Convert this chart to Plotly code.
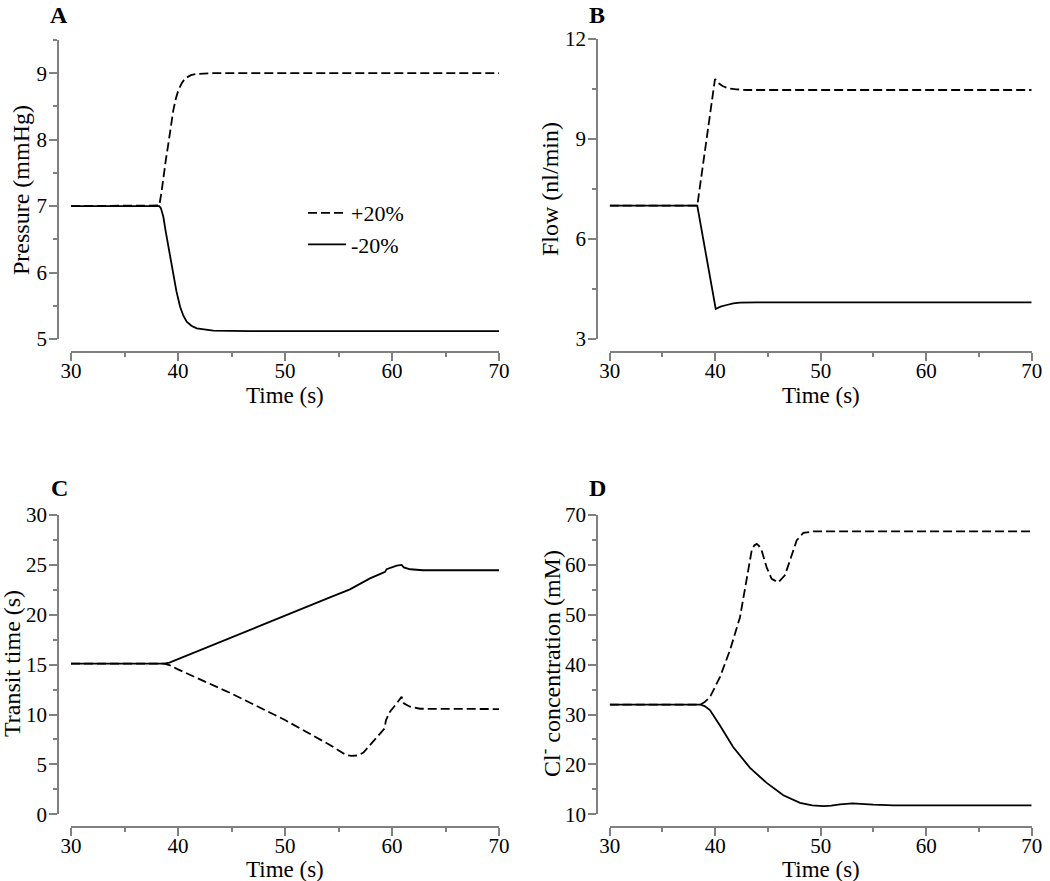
import plotly.graph_objects as go

# ---------------- data ----------------
# Panel A: pressure (mmHg)
tA_up = [30, 38.25, 38.45, 38.63, 38.85, 39.1, 39.33, 39.56, 39.8, 40.03, 40.35, 40.65, 41.2, 41.75, 43.3, 70]
pA_up = [7.0, 7.01, 7.2, 7.44, 7.68, 7.94, 8.2, 8.44, 8.62, 8.74, 8.85, 8.92, 8.97, 8.99, 9.0, 9.0]
tA_dn = [30, 38.25, 38.4, 38.63, 38.85, 39.1, 39.33, 39.56, 39.85, 40.19, 40.5, 40.81, 41.25, 41.75, 42.5, 43.3, 46.7, 70]
pA_dn = [7.0, 7.0, 6.97, 6.84, 6.62, 6.39, 6.16, 5.94, 5.72, 5.49, 5.35, 5.26, 5.2, 5.16, 5.14, 5.125, 5.12, 5.12]

# Panel B: flow (nl/min)
tB_up = [30, 38.3, 39.98, 40.3, 40.7, 41.24, 42.0, 42.98, 70]
fB_up = [7.0, 7.0, 10.8, 10.68, 10.59, 10.52, 10.49, 10.47, 10.47]
tB_dn = [30, 38.3, 40.05, 40.5, 41.09, 41.7, 42.35, 44.0, 70]
fB_dn = [7.0, 7.0, 3.9, 3.97, 4.02, 4.07, 4.09, 4.1, 4.1]

# Panel C: transit time (s)
tC_up = [30, 38.7, 39.2, 40, 45, 50, 54.2, 55.14, 55.7, 56.23, 56.8, 57.33, 58.26, 59.19, 59.3,
         59.44, 59.81, 60.44, 60.9, 61.1, 61.68, 62.6, 70]
vC_up = [15.1, 15.1, 14.95, 14.53, 12.1, 9.45, 6.95, 6.28, 5.95, 5.85, 5.9, 6.18, 7.28, 8.45, 8.6,
         9.45, 10.28, 11.12, 11.79, 11.12, 10.78, 10.58, 10.55]
tC_dn = [30, 38.7, 39.2, 40, 45, 50, 54.2, 56.07, 57.94, 59.19, 59.35, 59.5, 60.44, 60.9, 61.1, 61.7, 62.9, 70]
vC_dn = [15.1, 15.1, 15.2, 15.55, 17.8, 19.95, 21.75, 22.55, 23.65, 24.22, 24.3, 24.56, 24.92, 25.0,
         24.75, 24.56, 24.46, 24.46]

# Panel D: Cl- concentration (mM)
tD_up = [30, 38.6, 39.0, 39.5, 40.45, 41.4, 42.35, 42.98, 43.46, 43.7, 43.93, 44.15, 44.4, 44.88,
         45.35, 45.98, 46.6, 47.09, 47.72, 48.35, 49.3, 70]
cD_up = [32.0, 32.0, 32.5, 33.5, 37.5, 42.9, 49.5, 57.5, 62.9, 63.9, 64.2, 63.8, 62.9, 59.5,
         57.2, 56.5, 57.9, 60.9, 64.9, 66.4, 66.7, 66.7]
tD_dn = [30, 38.6, 39.0, 39.5, 40.45, 41.7, 43.3, 44.88, 46.46, 48.04, 49.2, 50.25, 51.0, 51.83,
         53.0, 54.0, 54.98, 56.9, 70]
cD_dn = [32.0, 32.0, 31.7, 30.9, 27.8, 23.5, 19.3, 16.3, 13.8, 12.3, 11.8, 11.65, 11.75, 12.0,
         12.2, 12.15, 11.95, 11.8, 11.8]

series_names = ["+20%", "-20%"]
x_ticks = [30, 40, 50, 60, 70]
panel_labels = ["A", "B", "C", "D"]
y_titles = ["Pressure (mmHg)", "Flow (nl/min)", "Transit time (s)", "Cl<sup>-</sup> concentration (mM)"]
x_title = "Time (s)"

# ---------------- figure ----------------
W, H = 1050, 881
FONT = "Liberation Serif"
AX = "#808080"

def px(x):
    return x / W

def py(y):
    return 1 - y / H

fig = go.Figure()

panels = [
    (tA_up, pA_up, tA_dn, pA_dn),
    (tB_up, fB_up, tB_dn, fB_dn),
    (tC_up, vC_up, tC_dn, vC_dn),
    (tD_up, cD_up, tD_dn, cD_dn),
]

for i, (tu, vu, td, vd) in enumerate(panels):
    n = "" if i == 0 else str(i + 1)
    fig.add_trace(go.Scatter(x=tu, y=vu, mode="lines", name=series_names[0],
                             line=dict(color="black", width=1.8, dash="9px,4px"),
                             xaxis="x" + n, yaxis="y" + n, showlegend=(i == 0),
                             legendgroup="up"))
    fig.add_trace(go.Scatter(x=td, y=vd, mode="lines", name=series_names[1],
                             line=dict(color="black", width=1.8),
                             xaxis="x" + n, yaxis="y" + n, showlegend=(i == 0),
                             legendgroup="dn"))

# geometry (pixels)
geo = [
    dict(x0=71, x1=499, yt=40, yb=339, yax=58, xax=352),
    dict(x0=609.7, x1=1031.7, yt=39, yb=339, yax=597, xax=352),
    dict(x0=71, x1=499, yt=515, yb=814.3, yax=58, xax=827),
    dict(x0=609.7, x1=1031.7, yt=515, yb=814.3, yax=597, xax=827),
]
yranges = [[5, 9.5], [3, 12], [0, 30], [10, 70]]
ydticks = [1, 3, 5, 10]
yminor = [0.5, 1.5, 2.5, 5]

common_tick = dict(showline=True, linecolor=AX, linewidth=1.5, ticks="outside", ticklen=8,
                   tickwidth=1.5, tickcolor=AX, showgrid=False, zeroline=False,
                   tickfont=dict(family=FONT, size=21, color="black"), automargin=False)

layout = {}
for i, g in enumerate(geo):
    n = "" if i == 0 else str(i + 1)
    layout["xaxis" + n] = dict(
        domain=[px(g["x0"]), px(g["x1"])], range=[30, 70], anchor="free",
        position=py(g["xax"]), tickvals=x_ticks, ticklabelstandoff=-8,
        minor=dict(ticks="outside", ticklen=4, dtick=5, tickcolor=AX, tickwidth=1.5),
        **common_tick)
    layout["yaxis" + n] = dict(
        domain=[py(g["yb"]), py(g["yt"])], range=yranges[i], anchor="free",
        position=px(g["yax"]), dtick=ydticks[i], tick0=0, ticklabelstandoff=-2,
        minor=dict(ticks="outside", ticklen=4, dtick=yminor[i], tickcolor=AX, tickwidth=1.5),
        **common_tick)

annotations = []
label_pos = [(59, 0), (597, 0), (59, 473), (597, 473)]
for lab, (lx, ly) in zip(panel_labels, label_pos):
    annotations.append(dict(text="<b>%s</b>" % lab, x=px(lx), y=py(ly), xref="paper", yref="paper",
                            showarrow=False, font=dict(family=FONT, size=24, color="black"),
                            xanchor="center", yanchor="top"))

# axis titles (positioned as in the reference)
xt_pos = [(285, 395), (820.7, 395), (285, 869), (820.7, 869)]
for (tx, ty) in xt_pos:
    annotations.append(dict(text=x_title, x=px(tx), y=py(ty), xref="paper", yref="paper",
                            showarrow=False, font=dict(family=FONT, size=23, color="black"),
                            xanchor="center", yanchor="middle"))
yt_pos = [(21, 190), (550, 189), (12, 664), (550, 664)]
for txt, (tx, ty) in zip(y_titles, yt_pos):
    annotations.append(dict(text=txt, x=px(tx), y=py(ty), xref="paper", yref="paper",
                            showarrow=False, textangle=-90,
                            font=dict(family=FONT, size=24, color="black"),
                            xanchor="center", yanchor="middle"))

fig.update_layout(
    width=W, height=H,
    margin=dict(l=0, r=0, t=0, b=0),
    paper_bgcolor="white", plot_bgcolor="white",
    font=dict(family=FONT, color="black"),
    showlegend=True,
    legend=dict(x=px(303), y=py(192), xanchor="left", yanchor="top",
                font=dict(family=FONT, size=22, color="black"),
                bgcolor="rgba(0,0,0,0)", tracegroupgap=0, itemwidth=38),
    annotations=annotations,
    **layout,
)

fig.write_html("out.html", config={"displayModeBar": False},
               post_script="document.body.style.margin='0px';")
